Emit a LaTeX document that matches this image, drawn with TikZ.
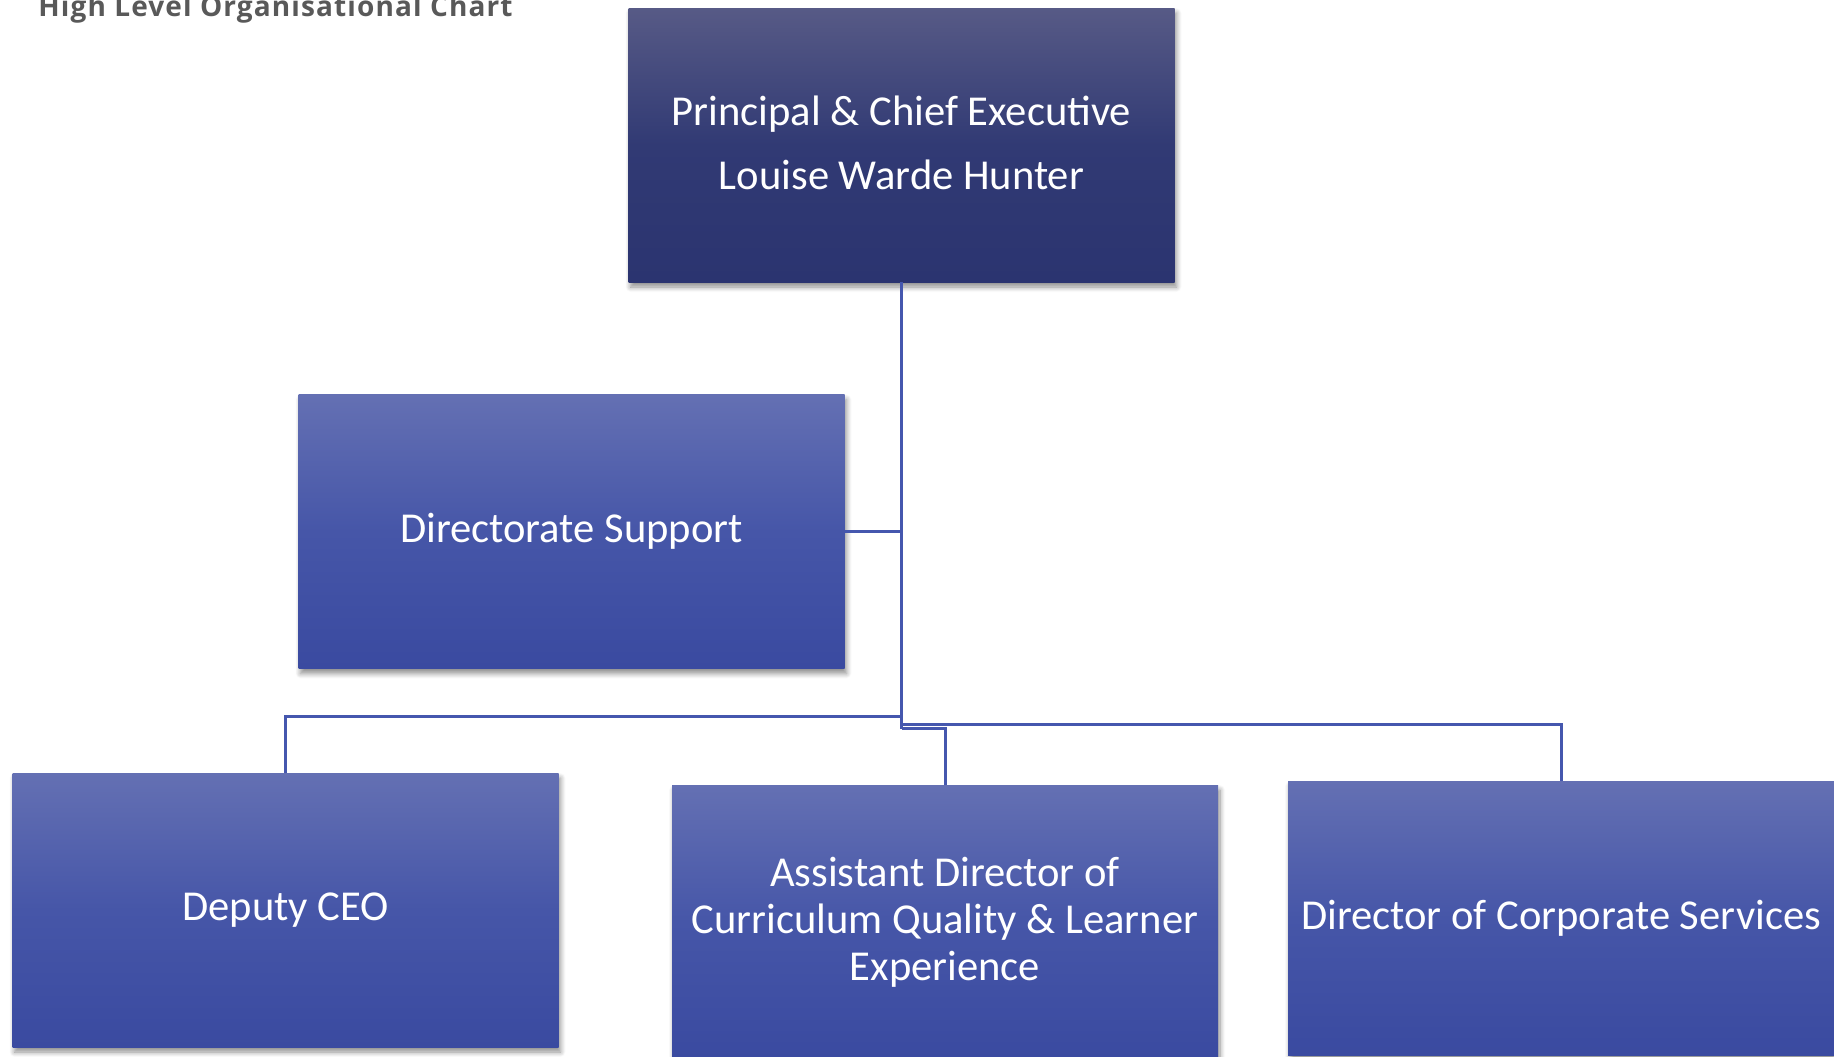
\documentclass[tikz,border=0pt]{standalone}
\usepackage{fontspec}
\setmainfont{Carlito}
\newfontfamily\titlefont[LetterSpace=4]{Open Sans}
\usetikzlibrary{shadows.blur}
\definecolor{linecol}{HTML}{4557AE}
\definecolor{titlegray}{HTML}{595959}
\definecolor{topA}{HTML}{575A86}
\definecolor{topB}{HTML}{313A74}
\definecolor{topC}{HTML}{2B3470}
\definecolor{lowA}{HTML}{6470B3}
\definecolor{lowB}{HTML}{4656A8}
\definecolor{lowC}{HTML}{3A4AA0}
\tikzset{
  orgbox/.style={rectangle, minimum width=273pt, minimum height=137pt, inner sep=2pt,
    text=white, align=center, font=\fontsize{21.3}{23.5}\selectfont,
    blur shadow={shadow xshift=1pt, shadow yshift=-2.5pt, shadow opacity=45, shadow blur radius=2.5pt, shadow blur steps=8}},
  headbox/.style={orgbox, top color=topA, bottom color=topC, middle color=topB},
  lowbox/.style={orgbox, top color=lowA, bottom color=lowC, middle color=lowB},
  conn/.style={draw=linecol, line width=1.5pt}
}
\begin{document}
\begin{tikzpicture}[x=0.5pt, y=-0.5pt]
\useasboundingbox (0,0) rectangle (1834,1056);
\node[anchor=base west, inner sep=0, text=titlegray, font=\titlefont\bfseries\fontsize{14}{16}\selectfont] (title) at (38,16) {High Level Organisational Chart};
\coordinate (jd) at (901.5,716);
\coordinate (jc) at (901.5,724);
\coordinate (ja) at (901.5,729);
\coordinate (jaa) at (901.5,728);
\node[headbox, font=\fontsize{21.3}{32}\selectfont] (top) at (901.5,145) {Principal \& Chief Executive\\Louise Warde Hunter\rule[-2.4pt]{0pt}{2.4pt}};
\node[lowbox] (ds) at (571.5,531.5) {Directorate Support};
\node[lowbox] (dep) at (285.5,910) {Deputy CEO};
\node[lowbox] (asst) at (945,922) {Assistant Director of\\Curriculum Quality \& Learner\\Experience};
\node[lowbox] (corp) at (1561,918) {Director of Corporate Services};
\draw[conn] (top.south) -- (ja);
\draw[conn] (ds.east) -- (ds.east -| top.south);
\draw[conn] (jd) -| (dep.north);
\draw[conn] (jc) -| (corp.north);
\draw[conn] (jaa) -| (asst.north);
\end{tikzpicture}
\end{document}
